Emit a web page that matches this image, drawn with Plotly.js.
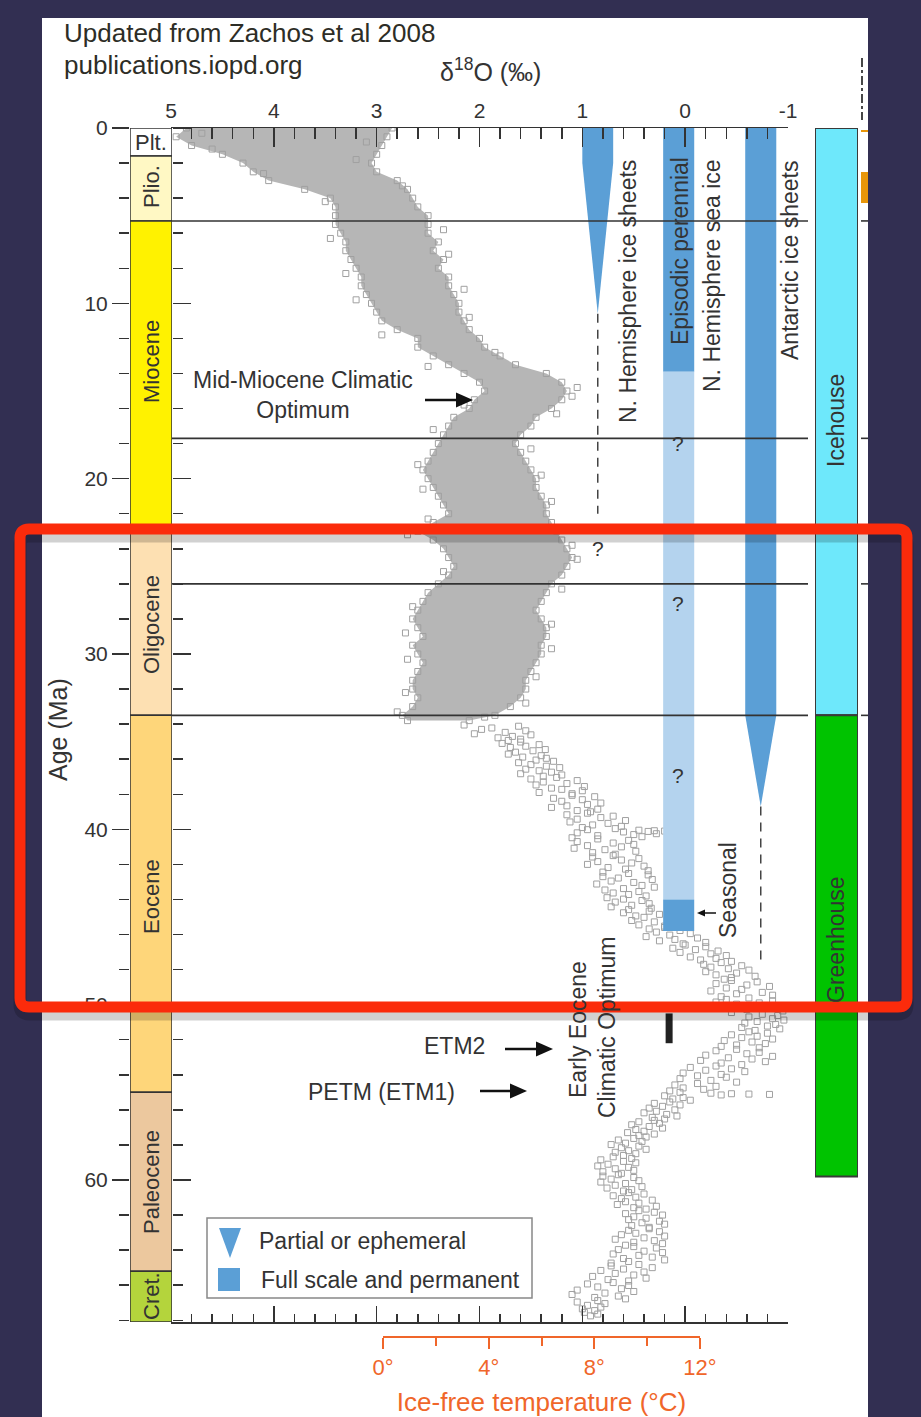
<!DOCTYPE html>
<html><head><meta charset="utf-8">
<script src="https://cdn.plot.ly/plotly-3.0.1.min.js"></script>
<style>html,body{margin:0;padding:0;background:#322f52;overflow:hidden}#chart{width:921px;height:1417px}</style>
</head><body><div id="chart"></div>
<script>
// ---------------- DATA ----------------
// Dense benthic δ18O band (0–34 Ma): age, heavy edge, light edge (‰)
const bandAge  = [0,0.5,1,1.5,2,2.5,3,3.5,4,4.5,5,5.5,6,6.5,7,7.5,8,8.5,9,9.5,10,10.5,11,11.5,12,12.5,13,13.5,14,14.5,15,15.5,16,16.5,17,17.5,18,18.5,19,19.5,20,20.5,21,21.5,22,22.5,23,23.5,24,24.5,25,25.5,26,26.5,27,27.5,28,28.5,29,29.5,30,30.5,31,31.5,32,32.5,33,33.5,33.8];
const bandHigh = [4.85,4.95,4.8,4.5,4.3,4.2,4.05,3.7,3.45,3.4,3.4,3.4,3.35,3.3,3.3,3.25,3.2,3.15,3.15,3.1,3.05,3.0,2.95,2.8,2.6,2.6,2.45,2.3,2.15,2.0,1.95,2.05,2.1,2.25,2.3,2.35,2.4,2.45,2.5,2.55,2.5,2.45,2.4,2.35,2.3,2.45,2.6,2.45,2.35,2.3,2.25,2.3,2.4,2.5,2.55,2.6,2.65,2.6,2.55,2.65,2.6,2.55,2.6,2.65,2.65,2.6,2.65,2.75,2.7];
const bandLow  = [2.85,2.9,2.95,3.0,3.05,3.0,2.8,2.7,2.65,2.6,2.5,2.5,2.5,2.4,2.45,2.35,2.4,2.3,2.3,2.25,2.2,2.2,2.15,2.1,2.0,1.95,1.8,1.65,1.35,1.2,1.15,1.2,1.3,1.45,1.5,1.6,1.65,1.6,1.55,1.5,1.45,1.45,1.4,1.35,1.35,1.3,1.25,1.2,1.15,1.1,1.15,1.2,1.3,1.35,1.4,1.45,1.4,1.35,1.35,1.4,1.4,1.45,1.5,1.55,1.55,1.6,1.7,1.85,2.1];
// Outlying samples around the dense band
const edgeAge  = [0.3,0.8,1.2,1.8,2.6,3.3,4.2,5.8,6.3,7.2,8.3,9.2,9.8,10.8,11.8,12.8,13.6,14.8,15.3,15.8,16.3,17.2,18.3,19.2,19.8,20.6,21.3,22.3,22.8,23.2,23.8,24.6,25.3,26.3,27.3,28.3,28.8,29.7,30.3,31.3,32.2,32.8,33.3,33.6];
const edgeD18O = [4.7,3.1,4.6,3.2,4.1,2.75,3.5,2.35,3.45,2.3,3.3,2.15,3.2,2.1,2.95,1.85,2.5,1.05,1.1,2.15,1.25,2.45,1.5,2.6,1.4,2.55,1.3,2.5,1.2,2.7,1.1,1.05,2.35,1.2,2.65,1.3,2.72,1.3,2.7,1.45,2.72,1.55,2.8,1.95];

// Sparse δ18O samples (34–68 Ma)
const sparseAge = [
 34.05,34.12,34.22,34.3,34.38,34.47,34.55,34.61,34.7,34.78,34.86,34.93,
 35.02,35.1,35.17,35.26,35.33,35.45,35.52,35.6,35.71,35.8,35.88,35.95,
 36.05,36.12,36.2,36.31,36.4,36.48,36.57,36.66,36.74,36.83,36.9,36.97,
 37.04,37.13,37.22,37.3,37.39,37.47,37.56,37.65,37.72,37.8,37.9,37.97,
 38.06,38.14,38.23,38.31,38.4,38.5,38.58,38.66,38.75,38.85,38.93,39.0,
 39.08,39.17,39.25,39.33,39.42,39.5,39.58,39.66,39.75,39.83,39.9,39.96,
 40.02,40.05,40.08,40.1,40.12,40.15,40.2,40.25,40.3,40.36,40.42,40.48,
 40.55,40.63,40.7,40.78,40.86,40.93,41.0,41.08,41.16,41.25,41.33,41.42,
 41.5,41.58,41.67,41.75,41.84,41.92,42.0,42.1,42.18,42.27,42.36,42.44,
 42.52,42.6,42.7,42.78,42.86,42.95,43.03,43.12,43.2,43.3,43.38,43.46,
 43.55,43.63,43.72,43.8,43.9,43.98,44.06,44.15,44.24,44.33,44.42,44.5,
 44.58,44.67,44.76,44.85,44.94,45.02,45.1,45.2,45.28,45.37,45.45,45.52,
 45.6,45.68,45.77,45.86,45.95,46.03,46.12,46.2,46.28,46.36,46.45,46.53,
 46.6,46.7,46.78,46.86,46.94,47.02,47.1,47.2,47.28,47.36,47.45,47.53,
 47.6,47.7,47.78,47.86,47.95,48.03,48.12,48.2,48.3,48.38,48.46,48.55,
 48.62,48.7,48.8,48.88,48.96,49.05,49.13,49.22,49.3,49.38,49.46,49.55,
 49.62,49.7,49.78,49.85,49.9,49.97,50.05,50.12,50.2,50.28,50.36,50.45,
 50.55,50.62,50.7,50.8,50.88,50.96,51.05,51.13,51.22,51.3,51.38,51.47,
 51.55,51.63,51.72,51.8,51.88,51.96,52.05,52.13,52.22,52.3,52.38,52.46,
 52.55,52.63,52.72,52.8,52.88,52.95,53.03,53.1,53.18,53.25,53.33,53.42,
 53.5,53.58,53.66,53.74,53.82,53.9,53.98,54.06,54.14,54.22,54.32,54.42,
 54.5,54.58,54.66,54.75,54.83,54.92,55.0,55.05,55.08,55.1,55.12,55.15,55.2,55.3,55.38,55.45,
 55.55,55.63,55.72,55.8,55.9,56.0,56.08,56.17,56.26,56.35,56.43,56.52,
 56.6,56.68,56.77,56.85,56.95,57.04,57.12,57.22,57.3,57.38,57.47,57.55,
 57.63,57.72,57.8,57.9,57.98,58.07,58.16,58.25,58.33,58.42,58.5,58.6,
 58.68,58.77,58.85,58.94,59.02,59.1,59.2,59.28,59.36,59.45,59.53,59.62,
 59.7,59.78,59.86,59.95,60.04,60.12,60.2,60.3,60.38,60.46,60.55,60.63,
 60.72,60.8,60.9,60.98,61.06,61.15,61.24,61.32,61.4,61.5,61.58,61.66,
 61.75,61.84,61.92,62.0,62.1,62.18,62.26,62.35,62.44,62.52,62.6,62.7,
 62.78,62.87,62.95,63.04,63.12,63.2,63.3,63.38,63.46,63.55,63.63,63.72,
 63.8,63.88,63.97,64.06,64.14,64.22,64.3,64.4,64.48,64.56,64.65,64.74,
 64.82,64.9,65.0,65.08,65.16,65.25,65.33,65.42,65.5,65.6,65.68,65.76,
 65.85,65.93,66.02,66.1,66.2,66.28,66.36,66.45,66.53,66.62,66.7,66.78,
 66.88,66.96,67.05,67.15,67.25,67.35,67.45,67.55,67.65,67.75];
const sparseD18O = [
 2.15,1.62,1.88,1.98,1.55,1.75,2.05,1.5,1.68,1.82,1.6,1.72,
 1.6,1.78,1.42,1.55,1.7,1.36,1.48,1.65,1.72,1.4,1.58,1.35,
 1.45,1.28,1.62,1.5,1.35,1.22,1.55,1.42,1.3,1.6,1.2,1.38,
 1.25,1.5,1.05,1.38,1.15,1.45,0.98,1.3,1.2,1.0,1.42,1.1,
 1.1,0.88,1.28,1.0,1.2,0.82,0.95,1.15,1.3,0.85,1.05,0.92,
 0.95,1.15,0.7,0.82,1.05,0.58,1.12,0.75,0.9,0.62,1.0,0.68,
 0.95,0.45,0.3,0.2,0.36,0.6,1.05,0.28,0.5,0.85,0.42,1.1,
 0.85,0.55,1.05,0.7,0.5,0.95,0.62,1.08,0.78,0.48,0.9,0.68,
 0.7,0.9,0.45,0.62,0.85,0.52,0.95,0.4,0.75,0.58,0.36,0.8,
 0.55,0.36,0.8,0.65,0.32,0.72,0.5,0.86,0.42,0.3,0.6,0.78,
 0.45,0.7,0.55,0.38,0.76,0.6,0.42,0.68,0.35,0.52,0.72,0.33,
 0.55,0.35,0.6,0.25,0.48,0.4,0.15,0.52,0.3,0.08,0.45,0.2,
 0.2,0.35,0.05,0.28,-0.05,0.15,0.38,-0.12,0.1,0.25,-0.2,0.02,
 0.0,-0.2,0.12,-0.1,-0.32,0.05,-0.25,-0.4,-0.05,-0.3,-0.15,-0.45,
 -0.35,-0.18,-0.55,-0.25,-0.42,-0.62,-0.2,-0.5,-0.3,-0.68,-0.45,-0.38,
 -0.45,-0.7,-0.3,-0.6,-0.82,-0.4,-0.55,-0.25,-0.75,-0.5,-0.85,-0.35,
 -0.62,-0.4,-0.85,-0.3,-0.72,-0.5,-0.92,-0.28,-0.78,-0.6,-0.95,-0.45,
 -0.75,-0.9,-0.62,-0.85,-0.96,-0.7,-0.58,-0.88,-0.8,-0.55,-0.92,-0.68,
 -0.62,-0.8,-0.45,-0.7,-0.55,-0.85,-0.38,-0.65,-0.78,-0.5,-0.35,-0.72,
 -0.5,-0.3,-0.72,-0.6,-0.2,-0.85,-0.42,-0.65,-0.15,-0.78,-0.35,-0.55,
 -0.3,-0.05,-0.45,-0.2,-0.58,0.02,-0.35,-0.12,-0.4,0.05,-0.25,-0.5,
 -0.12,0.1,-0.3,0.02,-0.18,0.15,0.05,-0.25,-0.45,-0.62,-0.82,-0.35,0.2,0.02,0.12,-0.05,
 0.15,0.3,0.05,0.22,0.35,0.1,0.28,0.4,0.18,0.08,0.32,0.2,
 0.3,0.45,0.25,0.52,0.35,0.22,0.48,0.4,0.56,0.3,0.45,0.38,
 0.5,0.65,0.42,0.58,0.72,0.45,0.62,0.38,0.55,0.68,0.48,0.6,
 0.7,0.52,0.82,0.6,0.48,0.75,0.85,0.55,0.68,0.5,0.8,0.62,
 0.65,0.8,0.5,0.72,0.45,0.82,0.58,0.68,0.42,0.76,0.52,0.6,
 0.55,0.4,0.7,0.48,0.62,0.32,0.58,0.45,0.66,0.28,0.5,0.38,
 0.45,0.3,0.58,0.22,0.5,0.38,0.55,0.25,0.42,0.2,0.52,0.35,
 0.35,0.55,0.25,0.48,0.62,0.2,0.4,0.68,0.3,0.5,0.22,0.58,
 0.5,0.28,0.65,0.4,0.22,0.7,0.45,0.32,0.6,0.2,0.55,0.72,
 0.45,0.72,0.32,0.6,0.82,0.4,0.68,0.5,0.9,0.38,0.75,0.55,
 0.7,0.95,0.55,0.85,0.62,1.05,0.5,0.78,1.1,0.65,0.88,0.58,
 0.85,1.05,0.78,0.95,0.82,1.0,0.88,0.98,0.85,0.92];

// Geological time scale
const epochNames = ['Plt.','Plio.','Miocene','Oligocene','Eocene','Paleocene','Cret.'];
const epochTop   = [0, 1.6, 5.3, 23.0, 33.5, 55.0, 65.2];
const epochBase  = [1.6, 5.3, 23.0, 33.5, 55.0, 65.2, 68.1];

// Climate states
const climateNames = ['Icehouse','Greenhouse'];
const climateTop   = [0, 33.5];
const climateBase  = [33.5, 59.8];

// Horizontal boundary lines (Ma)
const boundaryAges = [5.3, 17.7, 26.0, 33.5];

// Ice: N. Hemisphere ice sheets (partial), outline in (δ18O, age)
const nhIceD   = [1.0, 0.70, 0.70, 0.85, 1.0];
const nhIceAge = [0, 0, 2.0, 10.6, 2.0];
const nhDashD  = [0.85, 0.85];
const nhDashAge= [10.6, 22.0];
// Ice: episodic perennial N. Hemisphere sea ice
const seaIceEdge = [0.214, -0.088];
const seaIceTop  = [0, 13.9, 44.0];
const seaIceBase = [13.9, 44.0, 45.8];
const seaIceKind = ['full','partial','full'];
// Ice: Antarctic ice sheets
const antIceD   = [-0.584, -0.886, -0.886, -0.735, -0.584];
const antIceAge = [0, 0, 33.5, 38.7, 33.5];
const antDashD  = [-0.735, -0.735];
const antDashAge= [38.7, 47.5];
// Early Eocene Climatic Optimum marker
const eecoD   = [0.156, 0.156];
const eecoAge = [50.5, 52.2];

// Axis ticks
const d18Ticks = [5,4,3,2,1,0,-1];
const d18TickText = ['5','4','3','2','1','0','-1'];

// ---------------- STYLE / LAYOUT ----------------
const W = 921, H = 1417;
const PX = x => x / W;
const PY = y => 1 - y / H;
const FONT = 'Liberation Sans, Arial, Helvetica, sans-serif';
const TXT = '#333333';
const ORANGE = '#f0662a';
const ICE = '#5b9fd6';
const ICE_LIGHT = '#b4d3ee';
const epochColors = ['#ffffff','#fff8c4','#fff200','#fde0b2','#fed67a','#ecc89e','#b4d43c'];
const climateColors = ['#6ee8fb','#00c300'];
const SQ = {symbol:'square-open', size:6, color:'#a0a0a0', line:{width:1}};

const traces = [];
traces.push({
  type:'scatter', mode:'lines+markers', xaxis:'x', yaxis:'y',
  x: bandHigh.concat(bandLow.slice().reverse()),
  y: bandAge.concat(bandAge.slice().reverse()),
  fill:'toself', fillcolor:'#b6b6b6', line:{width:0, color:'#b6b6b6'},
  marker: SQ, hoverinfo:'skip'
});
traces.push({type:'scatter', mode:'markers', x: edgeD18O, y: edgeAge, marker: SQ, hoverinfo:'skip'});
traces.push({type:'scatter', mode:'markers', x: sparseD18O, y: sparseAge, marker: SQ, hoverinfo:'skip'});
seaIceTop.forEach((t,i)=>{
  traces.push({
    type:'scatter', mode:'lines',
    x:[seaIceEdge[0],seaIceEdge[1],seaIceEdge[1],seaIceEdge[0],seaIceEdge[0]],
    y:[t,t,seaIceBase[i],seaIceBase[i],t],
    fill:'toself', fillcolor: seaIceKind[i]==='full'?ICE:ICE_LIGHT, line:{width:0}, hoverinfo:'skip'
  });
});
traces.push({type:'scatter', mode:'lines', x:nhIceD, y:nhIceAge, fill:'toself', fillcolor:ICE, line:{width:0}, hoverinfo:'skip'});
traces.push({type:'scatter', mode:'lines', x:nhDashD, y:nhDashAge, line:{color:'#444', width:1.5, dash:'9px,7px'}, hoverinfo:'skip'});
traces.push({type:'scatter', mode:'lines', x:antIceD, y:antIceAge, fill:'toself', fillcolor:ICE, line:{width:0}, hoverinfo:'skip'});
traces.push({type:'scatter', mode:'lines', x:antDashD, y:antDashAge, line:{color:'#444', width:1.5, dash:'9px,7px'}, hoverinfo:'skip'});
traces.push({type:'scatter', mode:'lines', x:eecoD, y:eecoAge, line:{color:'#222', width:7}, hoverinfo:'skip'});
traces.push({
  type:'bar', xaxis:'x3', yaxis:'y',
  x: epochNames.map(()=>0.5), base: epochTop, y: epochTop.map((t,i)=>epochBase[i]-t),
  width: 1, marker:{color: epochColors, line:{color:'#333', width:1.5}}, hoverinfo:'skip'
});
traces.push({
  type:'bar', xaxis:'x4', yaxis:'y',
  x: climateNames.map(()=>0.5), base: climateTop, y: climateTop.map((t,i)=>climateBase[i]-t),
  width: 1, marker:{color: climateColors, line:{color:'#3a3a3a', width:2}}, hoverinfo:'skip'
});
traces.push({type:'scatter', mode:'markers', xaxis:'x2', yaxis:'y', x:[0], y:[0], marker:{opacity:0}, hoverinfo:'skip'});
traces.push({type:'scatter', mode:'markers', xaxis:'x3', yaxis:'y2', x:[0.5], y:[0], marker:{opacity:0}, hoverinfo:'skip'});
traces.push({type:'scatter', mode:'markers', xaxis:'x5', yaxis:'y', x:[0], y:[0], marker:{opacity:0}, hoverinfo:'skip'});

const tickCommon = {showgrid:false, zeroline:false, tickcolor:'#333', tickwidth:1.5, linecolor:'#333', linewidth:1.5};

const shapes = [];
shapes.push({type:'rect', xref:'paper', yref:'paper', x0:PX(42), x1:PX(868), y0:PY(1417), y1:PY(18), fillcolor:'#ffffff', line:{width:0}, layer:'below'});
boundaryAges.forEach(a=>{
  shapes.push({type:'line', xref:'paper', yref:'y', x0:PX(172), x1:PX(808), y0:a, y1:a, line:{color:'#333', width:1.6}, layer:'above'});
  shapes.push({type:'line', xref:'paper', yref:'y', x0:PX(861), x1:PX(868), y0:a, y1:a, line:{color:'#333', width:1.6}, layer:'above'});
});
shapes.push({type:'line', xref:'paper', yref:'paper', x0:PX(862), x1:PX(862), y0:PY(58), y1:PY(120), line:{color:'#333', width:1.8, dash:'dashdot'}});
shapes.push({type:'line', xref:'paper', yref:'paper', x0:PX(861), x1:PX(868), y0:PY(131), y1:PY(131), line:{color:'#e8960a', width:2}});
shapes.push({type:'rect', xref:'paper', yref:'paper', x0:PX(861), x1:PX(868), y0:PY(203), y1:PY(172), fillcolor:'#e8960a', line:{width:0}});
function arrow(xt, xh, y, hl, hw, lw){
  const dir = xh > xt ? 1 : -1;
  const xb = xh - dir*hl;
  shapes.push({type:'line', xref:'paper', yref:'paper', x0:PX(xt), x1:PX(xb + dir*1), y0:PY(y), y1:PY(y), line:{color:'#111', width:lw}, layer:'above'});
  shapes.push({type:'path', xref:'paper', yref:'paper', path:`M ${PX(xh)},${PY(y)} L ${PX(xb)},${PY(y-hw)} L ${PX(xb)},${PY(y+hw)} Z`, fillcolor:'#111', line:{width:0}, layer:'above'});
}
arrow(425, 473, 400, 17, 7.5, 2.5);
arrow(505, 553, 1049, 17, 7.5, 2.5);
arrow(480, 527, 1091, 17, 7.5, 2.5);
arrow(716, 697, 913, 8, 3.5, 1.5);
shapes.push({type:'rect', xref:'paper', yref:'paper', x0:PX(207), x1:PX(532), y0:PY(1298), y1:PY(1218), fillcolor:'#ffffff', line:{color:'#888', width:1.5}, layer:'above'});
shapes.push({type:'path', xref:'paper', yref:'paper', path:`M ${PX(219)},${PY(1228)} L ${PX(241)},${PY(1228)} L ${PX(230)},${PY(1258)} Z`, fillcolor:ICE, line:{width:0}, layer:'above'});
shapes.push({type:'rect', xref:'paper', yref:'paper', x0:PX(218), x1:PX(240), y0:PY(1291), y1:PY(1268), fillcolor:ICE, line:{width:0}, layer:'above'});
function rr(x0,y0,x1,y1,r,dy){
  y0+=dy; y1+=dy;
  return `M ${PX(x0+r)},${PY(y0)} L ${PX(x1-r)},${PY(y0)} Q ${PX(x1)},${PY(y0)} ${PX(x1)},${PY(y0+r)} L ${PX(x1)},${PY(y1-r)} Q ${PX(x1)},${PY(y1)} ${PX(x1-r)},${PY(y1)} L ${PX(x0+r)},${PY(y1)} Q ${PX(x0)},${PY(y1)} ${PX(x0)},${PY(y1-r)} L ${PX(x0)},${PY(y0+r)} Q ${PX(x0)},${PY(y0)} ${PX(x0+r)},${PY(y0)} Z`;
}
shapes.push({type:'path', xref:'paper', yref:'paper', path:rr(20,529,907,1007,9,7), line:{color:'rgba(0,0,0,0.18)', width:13}, layer:'above'});
shapes.push({type:'path', xref:'paper', yref:'paper', path:rr(20,529,907,1007,9,0), line:{color:'#fb2b0b', width:11}, layer:'above'});

const ann = [];
function T(text, x, y, size, opt){
  ann.push(Object.assign({text, xref:'paper', yref:'paper', x:PX(x), y:PY(y), showarrow:false, xanchor:'center', yanchor:'middle', font:{family:FONT, size:size, color:TXT}}, opt||{}));
}
T('Updated from Zachos et al 2008', 62, 33, 26, {xanchor:'left', font:{family:FONT,size:26,color:'#2d2d26'}});
T('publications.iopd.org', 62, 65, 26, {xanchor:'left', font:{family:FONT,size:26,color:'#2d2d26'}});
T('δ<sup>18</sup>O (‰)', 490, 70, 25);
T('Age (Ma)', 58, 730, 25, {textangle:-90});
T('Mid-Miocene Climatic<br>Optimum', 303, 395, 23);
T('ETM2', 454, 1046, 23);
T('PETM (ETM1)', 381, 1092, 23);
T('Early Eocene', 578, 1030, 23, {textangle:-90});
T('Climatic Optimum', 607, 1028, 23, {textangle:-90});
T('N. Hemisphere ice sheets', 628, 292, 23, {textangle:-90});
T('Episodic perennial', 680, 251, 23, {textangle:-90});
T('N. Hemisphere sea ice', 712, 276, 23, {textangle:-90});
T('Antarctic ice sheets', 790, 261, 23, {textangle:-90});
T('Seasonal', 728, 890, 23, {textangle:-90});
T('?', 598, 548, 21); T('?', 678, 443, 21); T('?', 678, 603, 21); T('?', 678, 775, 21);
T('Icehouse', 836, 421, 23, {textangle:-90});
T('Greenhouse', 836, 940, 23, {textangle:-90});
const epochLabelY = [142, 187, 362, 625, 897, 1182, 1296];
epochNames.forEach((n,i)=>T(n, 151, epochLabelY[i], 22, i===0?{}:{textangle:-90}));
T('Partial or ephemeral', 257, 1241, 23, {xanchor:'left'});
T('Full scale and permanent', 259, 1280, 23, {xanchor:'left'});

const layout = {
  width:W, height:H, margin:{l:0,r:0,t:0,b:0,pad:0},
  paper_bgcolor:'#322f52', plot_bgcolor:'rgba(0,0,0,0)',
  showlegend:false, barmode:'overlay',
  font:{family:FONT, color:TXT, size:21},
  xaxis: Object.assign({}, tickCommon, {domain:[PX(171),PX(788)], range:[5,-1], anchor:'y', side:'bottom', showline:true,
    ticks:'inside', ticklen:16, tickmode:'linear', tick0:0, dtick:1, showticklabels:false,
    minor:{ticks:'inside', tickmode:'linear', tick0:0, dtick:0.2, ticklen:8, tickwidth:1.5, tickcolor:'#333', showgrid:false}}),
  xaxis2: Object.assign({}, tickCommon, {overlaying:'x', side:'top', anchor:'y', range:[5,-1], showline:true,
    ticks:'inside', ticklen:19, tickmode:'array', tickvals:d18Ticks, ticktext:d18TickText, tickfont:{family:FONT, size:21, color:TXT},
    minor:{ticks:'inside', tickmode:'linear', tick0:0, dtick:0.2, ticklen:11, tickwidth:1.5, tickcolor:'#333', showgrid:false}}),
  xaxis3: {domain:[PX(130),PX(172)], range:[0,1], anchor:'y', visible:false},
  xaxis4: {domain:[PX(815),PX(858)], range:[0,1], anchor:'y', visible:false},
  xaxis5: {domain:[PX(383),PX(700)], range:[0,12], anchor:'free', position:PY(1337), side:'bottom', showline:true,
    linecolor:ORANGE, linewidth:2, ticks:'outside', ticklen:11, tickwidth:2, tickcolor:ORANGE, tickmode:'linear', tick0:0, dtick:4,
    ticksuffix:'°', tickfont:{family:FONT, size:22, color:ORANGE}, showgrid:false, zeroline:false,
    minor:{ticks:'outside', tickmode:'linear', tick0:0, dtick:2, ticklen:8, tickwidth:2, tickcolor:ORANGE, showgrid:false},
    title:{text:'Ice-free temperature (°C)', font:{family:FONT, size:26, color:ORANGE}, standoff:13}},
  yaxis: Object.assign({}, tickCommon, {domain:[PY(1322),PY(128)], range:[68.1,0], anchor:'x3', side:'left', showline:false,
    ticks:'outside', ticklen:17, tickmode:'linear', tick0:0, dtick:10, tickfont:{family:FONT, size:21, color:TXT},
    minor:{ticks:'outside', tickmode:'linear', tick0:0, dtick:2, ticklen:10, tickwidth:1.5, tickcolor:'#333', showgrid:false}}),
  yaxis2: Object.assign({}, tickCommon, {overlaying:'y', side:'right', anchor:'x3', range:[68.1,0], showline:false,
    ticks:'outside', ticklen:18, tickmode:'linear', tick0:0, dtick:10, showticklabels:false,
    minor:{ticks:'outside', tickmode:'linear', tick0:0, dtick:2, ticklen:10, tickwidth:1.5, tickcolor:'#333', showgrid:false}}),
  shapes: shapes,
  annotations: ann
};
Plotly.newPlot('chart', traces, layout, {staticPlot:true, displayModeBar:false});
</script></body></html>
